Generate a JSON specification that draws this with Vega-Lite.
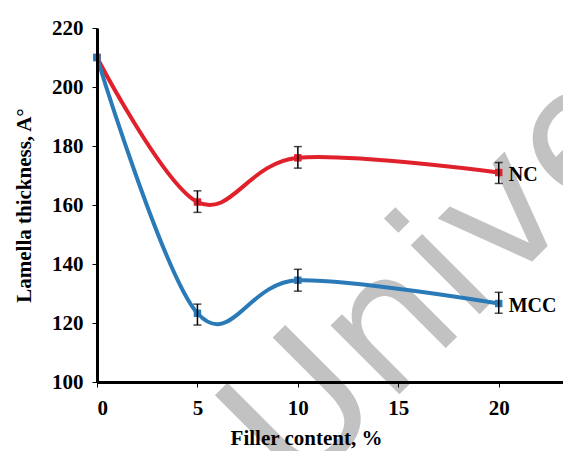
{
  "$schema": "https://vega.github.io/schema/vega-lite/v6.json",
  "width": 466,
  "height": 354,
  "autosize": "none",
  "padding": {"left": 97, "top": 28, "right": 0, "bottom": 69},
  "background": "white",
  "config": {"view": {"stroke": null}, "font": "Liberation Serif"},
  "data": {"values": [
    {"x": 0, "y": 210, "s": "NC"},
    {"x": 5, "y": 161, "lo": 157.5, "hi": 164.8, "s": "NC"},
    {"x": 10, "y": 176, "lo": 172.5, "hi": 179.8, "s": "NC"},
    {"x": 20, "y": 171, "lo": 167.3, "hi": 174.4, "s": "NC"},
    {"x": 0, "y": 210, "s": "MCC"},
    {"x": 5, "y": 123.3, "lo": 119.3, "hi": 126.4, "s": "MCC"},
    {"x": 10, "y": 134.5, "lo": 130.8, "hi": 138.2, "s": "MCC"},
    {"x": 20, "y": 126.6, "lo": 123.3, "hi": 130.4, "s": "MCC"}
  ]},
  "encoding": {
    "x": {"field": "x", "type": "quantitative", "scale": {"domain": [0, 23.2], "nice": false, "zero": false},
      "axis": {"values": [0, 5, 10, 15, 20], "grid": false, "title": "Filler content, %", "zindex": 1,
        "labelFont": "Liberation Serif", "labelFontWeight": "bold", "labelFontSize": 21, "labelColor": "black",
        "labelPadding": 10, "domainColor": "black", "domainWidth": 3, "tickColor": "black", "tickSize": 5,
        "titleFont": "Liberation Serif", "titleFontWeight": "bold", "titleFontSize": 21, "titleColor": "black",
        "titlePadding": 9, "titleX": 209}},
    "y": {"field": "y", "type": "quantitative", "scale": {"domain": [100, 220], "nice": false, "zero": false},
      "axis": {"values": [100, 120, 140, 160, 180, 200, 220], "grid": false, "title": "Lamella thickness, A°", "zindex": 1,
        "labelFont": "Liberation Serif", "labelFontWeight": "bold", "labelFontSize": 21, "labelColor": "black",
        "labelPadding": 9, "domainColor": "black", "domainWidth": 3, "tickColor": "black", "tickSize": 5,
        "titleFont": "Liberation Serif", "titleFontWeight": "bold", "titleFontSize": 21, "titleColor": "black",
        "titlePadding": 17}}
  },
  "layer": [
    {
      "data": {"values": [{"t": "University", "x": 9.9, "y": 60.7}]},
      "mark": {"type": "text", "align": "left", "baseline": "alphabetic", "angle": -45, "font": "DejaVu Sans", "fontSize": 178, "color": "#c2c2c2"},
      "encoding": {
        "text": {"field": "t"}
      }
    },
    {
      "mark": {"type": "line", "interpolate": "cardinal", "strokeWidth": 4},
      "encoding": {
        "color": {"field": "s", "type": "nominal", "scale": {"domain": ["MCC", "NC"], "range": ["#2a7ab8", "#e0202a"]}, "legend": null},
        "detail": {"field": "s"}
      }
    },
    {
      "mark": {"type": "square", "size": 55, "opacity": 1, "filled": true},
      "encoding": {
        "color": {"field": "s", "type": "nominal", "scale": {"domain": ["MCC", "NC"], "range": ["#3a5ea8", "#c41428"]}, "legend": null}
      }
    },
    {
      "transform": [{"filter": "isValid(datum.lo)"}],
      "mark": {"type": "rule", "color": "black", "strokeWidth": 1.5},
      "encoding": {
        "y": {"field": "lo", "type": "quantitative"},
        "y2": {"field": "hi"}
      }
    },
    {
      "transform": [{"filter": "isValid(datum.lo)"}, {"fold": ["lo", "hi"], "as": ["k", "v"]}],
      "mark": {"type": "tick", "color": "black", "orient": "horizontal", "size": 8, "thickness": 1.5},
      "encoding": {
        "y": {"field": "v", "type": "quantitative"}
      }
    },
    {
      "transform": [{"filter": "datum.x == 20"}],
      "mark": {"type": "text", "align": "left", "baseline": "middle", "dx": 10, "dy": 2, "font": "Liberation Serif", "fontWeight": "bold", "fontSize": 20, "color": "black"},
      "encoding": {
        "text": {"field": "s"}
      }
    }
  ]
}
